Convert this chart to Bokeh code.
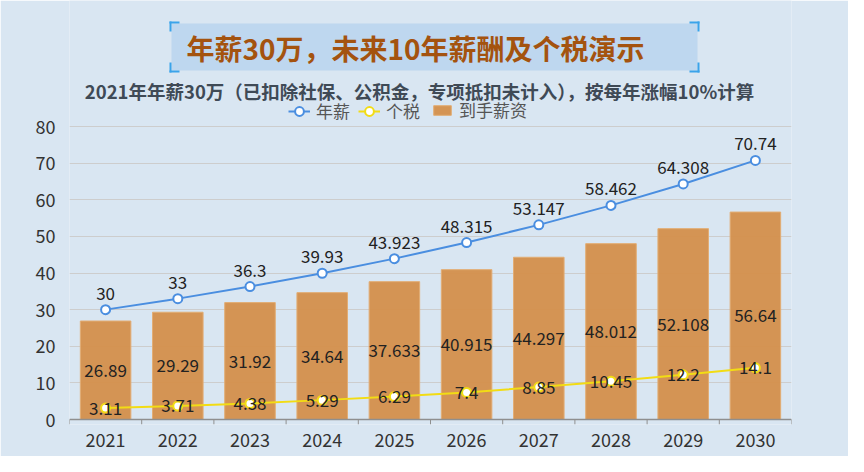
from bokeh.plotting import figure
from bokeh.models import (ColumnDataSource, FactorRange, Range1d, LabelSet, Label,
                          BoxAnnotation, Legend, LegendItem, Span)
from bokeh.core.properties import value
from bokeh.embed import file_html
from bokeh.resources import INLINE

years = ["2021", "2022", "2023", "2024", "2025", "2026", "2027", "2028", "2029", "2030"]
salary = [30, 33, 36.3, 39.93, 43.923, 48.315, 53.147, 58.462, 64.308, 70.74]
tax = [3.11, 3.71, 4.38, 5.29, 6.29, 7.4, 8.85, 10.45, 12.2, 14.1]
net = [26.89, 29.29, 31.92, 34.64, 37.633, 40.915, 44.297, 48.012, 52.108, 56.64]
series_names = ["年薪", "个税", "到手薪资"]
title_text = "年薪30万，未来10年薪酬及个税演示"
subtitle_text = "2021年年薪30万（已扣除社保、公积金，专项抵扣未计入），按每年涨幅10%计算"
y_ticks = [0, 10, 20, 30, 40, 50, 60, 70, 80]

BG = "#d9e6f2"
FONT = "Noto Sans CJK SC"
BLUE = "#4a8ee0"
YELLOW = "#f2dc14"
ORANGE = "#d48f4b"
AXIS_GREY = "#8f8f8f"

W, H = 848, 456
FL, FR, FT, FB = 69, 791, 126, 419          # plot area (value 0..80) edges in canvas px
TICK = 5                                    # length of the boundary ticks below the axis
N = len(years)
CW = (FR - FL) / N                          # px per category
UPX = (FB - FT) / 80.0                      # px per y unit


def X(px):   # canvas px -> categorical synthetic coordinate
    return (px - FL) / CW


def Y(py):   # canvas px -> y data value
    return (FB - py) / UPX


src = ColumnDataSource(dict(
    years=years, salary=salary, tax=tax, net=net,
    salary_lbl=[f"{v:g}" for v in salary],
    tax_lbl=[f"{v:g}" for v in tax],
    net_lbl=[f"{v:g}" for v in net],
    net_mid=[v / 2 for v in net],
))

# the frame reaches the top of the canvas so the header can live inside it,
# and a few pixels below zero so the boundary ticks can be drawn
p = figure(width=W, height=H, x_range=FactorRange(*years, range_padding=0),
           y_range=Range1d(Y(FB + TICK), Y(0)), output_backend="svg", toolbar_location=None,
           min_border_left=FL, min_border_right=W - FR, min_border_top=0,
           min_border_bottom=H - FB - TICK)
p.background_fill_color = BG
p.border_fill_color = BG
p.outline_line_color = None
p.xgrid.grid_line_color = None
p.ygrid.grid_line_color = "#cdcdcd"
p.yaxis.ticker = y_ticks
p.yaxis.axis_line_color = None
p.yaxis.major_tick_line_color = None
p.yaxis.minor_tick_line_color = None
p.yaxis.major_label_standoff = 8
p.xaxis.axis_line_color = None
p.xaxis.major_tick_line_color = None
p.xaxis.major_label_standoff = 2
for ax in (p.xaxis, p.yaxis):
    ax.major_label_text_font = FONT
    ax.major_label_text_font_size = "18px"
    ax.major_label_text_color = "#333333"

# axis line at zero and ticks on the boundaries between years
p.add_layout(Span(location=0, dimension="width", line_color=AXIS_GREY, line_width=1.5))
bounds = list(range(N + 1))
p.segment(x0=bounds, x1=bounds, y0=[0] * len(bounds), y1=[Y(FB + TICK)] * len(bounds),
          line_color=AXIS_GREY, line_width=1)

# ---- header: title box with corner brackets ----
bx0, bx1, by0, by1 = 169, 699, 21, 72
p.add_layout(BoxAnnotation(left=X(bx0 + 2), right=X(bx1 - 2), top=Y(by0 + 2), bottom=Y(by1 - 2),
                           fill_color="#b9d4ee", fill_alpha=0.85, line_color=None, level="underlay"))
Lb, T = 10, 2
for (cx, cy, sx, sy) in [(bx0, by0, 1, 1), (bx1, by0, -1, 1), (bx0, by1, 1, -1), (bx1, by1, -1, -1)]:
    xa, xb = sorted([cx, cx + sx * Lb])
    ya, yb = sorted([cy, cy + sy * T])
    p.add_layout(BoxAnnotation(left=X(xa), right=X(xb), top=Y(ya), bottom=Y(yb),
                               fill_color="#3aa3ea", fill_alpha=1, line_color=None))
    xa, xb = sorted([cx, cx + sx * T])
    ya, yb = sorted([cy, cy + sy * Lb])
    p.add_layout(BoxAnnotation(left=X(xa), right=X(xb), top=Y(ya), bottom=Y(yb),
                               fill_color="#3aa3ea", fill_alpha=1, line_color=None))

p.add_layout(Label(x=X(415), y=Y(47), text=title_text, text_align="center", text_baseline="middle",
                   text_font=FONT, text_font_size="28px", text_font_style="bold", text_color="#a4530f"))
p.add_layout(Label(x=X(419), y=Y(90), text=subtitle_text, text_align="center", text_baseline="middle",
                   text_font=FONT, text_font_size="18.5px", text_font_style="bold", text_color="#3f4a56"))

# ---- data ----
bars = p.vbar(x="years", top="net", width=0.7, source=src, fill_color=ORANGE, fill_alpha=0.95,
              line_color="#e2ad74", line_width=1)
l1 = p.line(x="years", y="salary", source=src, line_color=BLUE, line_width=2)
s1 = p.scatter(x="years", y="salary", source=src, size=9, fill_color="white", line_color=BLUE, line_width=2)
l2 = p.line(x="years", y="tax", source=src, line_color=YELLOW, line_width=2)
s2 = p.scatter(x="years", y="tax", source=src, size=9, fill_color="white", line_color=YELLOW, line_width=2)

common = dict(source=src, text_align="center", text_font=value(FONT), text_font_size=value("17px"),
              text_color="#222222")
p.add_layout(LabelSet(x="years", y="salary", text="salary_lbl", y_offset=10,
                      text_baseline="bottom", **common))
p.add_layout(LabelSet(x="years", y="net_mid", text="net_lbl", text_baseline="middle", **common))
p.add_layout(LabelSet(x="years", y="tax", text="tax_lbl", text_baseline="middle", **common))

# ---- legend (lines with markers, then the bar swatch) ----
leg_style = dict(orientation="horizontal", background_fill_alpha=0, border_line_color=None,
                 label_text_font=FONT, label_text_font_size="17px", label_text_color="#555555",
                 glyph_width=22, label_standoff=6, spacing=8, padding=0, margin=0, label_height=20)
legend1 = Legend(items=[LegendItem(label=series_names[0], renderers=[l1, s1]),
                        LegendItem(label=series_names[1], renderers=[l2, s2])],
                 location=(288 - FL, FB + TICK - 123), glyph_height=22, **leg_style)
legend2 = Legend(items=[LegendItem(label=series_names[2], renderers=[bars])],
                 location=(431 - FL, FB + TICK - 122), glyph_height=12, **leg_style)
p.add_layout(legend1)
p.add_layout(legend2)

open("out.html", "w").write(file_html(p, INLINE))
